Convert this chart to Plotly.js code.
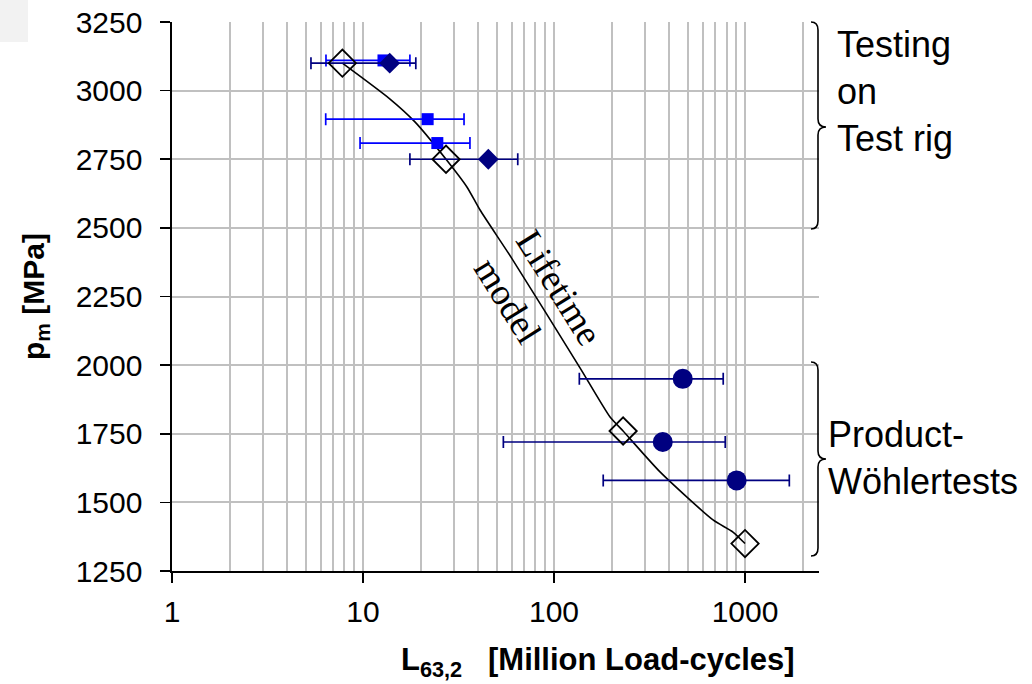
<!DOCTYPE html>
<html>
<head>
<meta charset="utf-8">
<script src="https://cdn.plot.ly/plotly-3.0.1.min.js"></script>
<style>html,body{margin:0;padding:0;background:#fff;}#chart{width:1032px;height:684px;}</style>
</head>
<body>
<div id="chart"></div>
<script>
// ---- data ----
// Lifetime model curve
const modelCurveX = [7.8, 13.8, 18.7, 27.2, 35.0, 41.0, 60.0, 136.8, 196.5, 230, 359, 680, 865, 1000];
const modelCurveY = [3100, 2970, 2886, 2750, 2649, 2565, 2390, 1990, 1811, 1760, 1611, 1436, 1392, 1350];
// Lifetime model points (open diamonds)
const modelPtsX = [7.8, 27.2, 230, 1000];
const modelPtsY = [3100, 2750, 1760, 1350];
// Test rig: navy diamonds
const rigDiaX = [13.8, 45.3];
const rigDiaY = [3100, 2750];
const rigDiaLo = [5.34, 17.6];
const rigDiaHi = [18.9, 64.6];
// Test rig: blue squares
const rigSqX = [12.8, 21.8, 24.5];
const rigSqY = [3110, 2896, 2809];
const rigSqLo = [6.4, 6.38, 9.65];
const rigSqHi = [17.6, 33.8, 36.3];
// Product Woehler tests: navy circles
const prodX = [472, 371, 904];
const prodY = [1950, 1720, 1580];
const prodLo = [135.7, 54.3, 181];
const prodHi = [769, 788, 1706];
// axis ticks
const xTickVals = [1, 10, 100, 1000];
const xTickText = ['1', '10', '100', '1000'];
const yTickVals = [1250, 1500, 1750, 2000, 2250, 2500, 2750, 3000, 3250];

const NAVY = '#000080', BLUE = '#0000FF', GRID = '#c0c0c0';
const FONT = 'Arial, "Liberation Sans", sans-serif';

function plusOf(v, hi) { return v.map((x, i) => hi[i] - x); }
function minusOf(v, lo) { return v.map((x, i) => x - lo[i]); }

const minorVals = [];
[1, 10, 100, 1000].forEach(d => { for (let k = 2; k <= 9; k++) { if (d * k < 2500) minorVals.push(d * k); } });

const traces = [
  { x: modelCurveX, y: modelCurveY, mode: 'lines', type: 'scatter',
    line: { color: '#000', width: 1.6, shape: 'spline', smoothing: 0.6 }, hoverinfo: 'skip' },
  { x: rigSqX, y: rigSqY, mode: 'markers', type: 'scatter',
    marker: { symbol: 'square', size: 12, color: BLUE },
    error_x: { type: 'data', symmetric: false, array: plusOf(rigSqX, rigSqHi), arrayminus: minusOf(rigSqX, rigSqLo),
      color: BLUE, thickness: 1.7, width: 6 } },
  { x: rigDiaX, y: rigDiaY, mode: 'markers', type: 'scatter',
    marker: { symbol: 'diamond', size: 16, color: NAVY },
    error_x: { type: 'data', symmetric: false, array: plusOf(rigDiaX, rigDiaHi), arrayminus: minusOf(rigDiaX, rigDiaLo),
      color: NAVY, thickness: 1.7, width: 6 } },
  { x: prodX, y: prodY, mode: 'markers', type: 'scatter',
    marker: { symbol: 'circle', size: 20, color: NAVY },
    error_x: { type: 'data', symmetric: false, array: plusOf(prodX, prodHi), arrayminus: minusOf(prodX, prodLo),
      color: NAVY, thickness: 1.7, width: 6 } },
  { x: modelPtsX, y: modelPtsY, mode: 'markers', type: 'scatter',
    marker: { symbol: 'diamond-open', size: 21, color: '#000', line: { width: 1.8, color: '#000' } } }
];

// plot area in pixels
const L = 172, R = 819, T = 22, B = 571;
const W = 1032, H = 684;
const pxX = p => ((p - L) / (R - L)).toFixed(5);
const pxY = p => ((B - p) / (B - T)).toFixed(5);
function brace(x0, xv, xt, yTop, yMid, yBot) {
  const r = 8;
  return 'M ' + pxX(x0) + ',' + pxY(yTop) +
    ' Q ' + pxX(xv) + ',' + pxY(yTop) + ' ' + pxX(xv) + ',' + pxY(yTop + r) +
    ' L ' + pxX(xv) + ',' + pxY(yMid - r) +
    ' Q ' + pxX(xv) + ',' + pxY(yMid) + ' ' + pxX(xt) + ',' + pxY(yMid) +
    ' Q ' + pxX(xv) + ',' + pxY(yMid) + ' ' + pxX(xv) + ',' + pxY(yMid + r) +
    ' L ' + pxX(xv) + ',' + pxY(yBot - r) +
    ' Q ' + pxX(xv) + ',' + pxY(yBot) + ' ' + pxX(x0) + ',' + pxY(yBot);
}

const layout = {
  width: W, height: H,
  margin: { l: L, r: W - R, t: T, b: H - B, pad: 0 },
  paper_bgcolor: '#fff', plot_bgcolor: '#fff',
  showlegend: false,
  font: { family: FONT, color: '#000', size: 30 },
  xaxis: {
    type: 'log', range: [0, Math.log10(2440)],
    tickmode: 'array', tickvals: xTickVals, ticktext: xTickText,
    ticks: 'outside', ticklen: 10, tickwidth: 1.6, tickcolor: '#000',
    ticklabelstandoff: 3,
    showline: true, linecolor: '#000', linewidth: 1.6,
    showgrid: true, gridcolor: GRID, gridwidth: 2,
    minor: { tickmode: 'array', tickvals: minorVals, showgrid: true, gridcolor: GRID, gridwidth: 2, ticks: '' },
    tickfont: { family: FONT, size: 30, color: '#000' },
    zeroline: false, fixedrange: true
  },
  yaxis: {
    range: [1250, 3250], tickmode: 'array', tickvals: yTickVals,
    ticks: 'outside', ticklen: 10, tickwidth: 1.6, tickcolor: '#000',
    ticklabelstandoff: 12,
    showline: true, linecolor: '#000', linewidth: 1.6,
    showgrid: true, gridcolor: GRID, gridwidth: 2,
    tickfont: { family: FONT, size: 30, color: '#000' },
    zeroline: false, fixedrange: true
  },
  shapes: [
    { type: 'rect', xref: 'paper', yref: 'paper', x0: pxX(0), x1: pxX(28), y0: pxY(0), y1: pxY(42),
      fillcolor: '#f2f2f2', line: { width: 0 }, layer: 'below' },
    { type: 'path', xref: 'paper', yref: 'paper', path: brace(811, 818, 826, 22, 127, 229),
      line: { color: '#000', width: 1.6 } },
    { type: 'path', xref: 'paper', yref: 'paper', path: brace(811, 818, 826, 362, 459, 556),
      line: { color: '#000', width: 1.6 } }
  ],
  annotations: [
    { xref: 'paper', yref: 'paper', x: pxX(835), y: pxY(92), xanchor: 'left', yanchor: 'middle', align: 'left',
      text: 'Testing<br>on<br>Test rig', showarrow: false, font: { family: FONT, size: 36, color: '#000' } },
    { xref: 'paper', yref: 'paper', x: pxX(826), y: pxY(458), xanchor: 'left', yanchor: 'middle', align: 'left',
      text: 'Product-<br>Wöhlertests', showarrow: false, font: { family: FONT, size: 36, color: '#000' } },
    { xref: 'x', yref: 'y', x: Math.log10(106), y: 2281, text: 'Lifetime', textangle: 58, showarrow: false,
      font: { family: '"Liberation Serif", "Times New Roman", serif', size: 37, color: '#000' } },
    { xref: 'x', yref: 'y', x: Math.log10(57.4), y: 2237, text: 'model', textangle: 58, showarrow: false,
      font: { family: '"Liberation Serif", "Times New Roman", serif', size: 37, color: '#000' } },
    { xref: 'paper', yref: 'paper', x: pxX(598), y: pxY(662), xanchor: 'center', yanchor: 'middle',
      text: '<b>L<sub>63,2</sub>\u00a0\u00a0\u00a0[Million Load-cycles]</b>', showarrow: false,
      font: { family: FONT, size: 31, color: '#000' } },
    { xref: 'paper', yref: 'paper', x: pxX(36), y: pxY(297), xanchor: 'center', yanchor: 'middle', textangle: -90,
      text: '<b>p<sub>m</sub> [MPa]</b>', showarrow: false,
      font: { family: FONT, size: 30, color: '#000' } }
  ]
};

Plotly.newPlot('chart', traces, layout, { displayModeBar: false, staticPlot: true });
</script>
</body>
</html>
